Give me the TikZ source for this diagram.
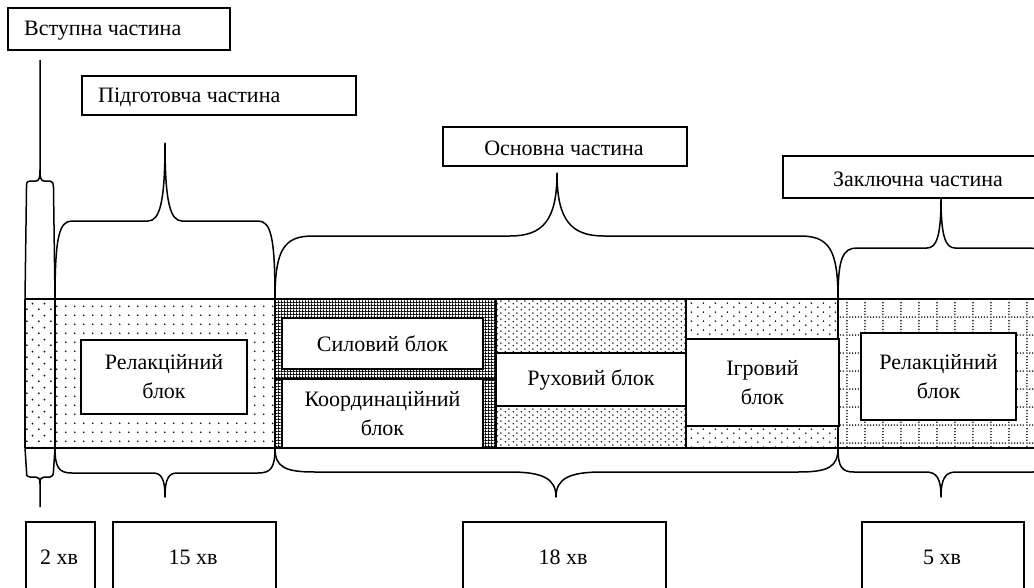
\documentclass[tikz,border=0pt]{standalone}
\usepackage{fontspec}
\setmainfont{Liberation Serif}
\usetikzlibrary{patterns}

% sparse staggered dots (Вступна)
\pgfdeclarepatternformonly{pA}{\pgfpointorigin}{\pgfqpoint{12pt}{12pt}}{\pgfqpoint{12pt}{12pt}}{%
 \pgfpathcircle{\pgfqpoint{3pt}{3pt}}{1pt}\pgfpathcircle{\pgfqpoint{9pt}{9pt}}{1pt}\pgfusepath{fill}}
% regular dots (Підготовча)
\pgfdeclarepatternformonly{pB}{\pgfpointorigin}{\pgfqpoint{9pt}{9pt}}{\pgfqpoint{9pt}{9pt}}{%
 \pgfpathcircle{\pgfqpoint{3pt}{3pt}}{1pt}\pgfusepath{fill}}
% fine mesh (Силовий / Координаційний)
\pgfdeclarepatternformonly{pC}{\pgfpointorigin}{\pgfqpoint{3.2pt}{3.2pt}}{\pgfqpoint{3.2pt}{3.2pt}}{%
 \pgfpathrectangle{\pgfpointorigin}{\pgfqpoint{3.2pt}{1.1pt}}\pgfpathrectangle{\pgfpointorigin}{\pgfqpoint{1.1pt}{3.2pt}}\pgfusepath{fill}}
% dense staggered dots (Руховий)
\pgfdeclarepatternformonly{pD}{\pgfpointorigin}{\pgfqpoint{8pt}{6pt}}{\pgfqpoint{8pt}{6pt}}{%
 \pgfpathcircle{\pgfqpoint{1.5pt}{1.5pt}}{0.9pt}\pgfpathcircle{\pgfqpoint{5.5pt}{4.5pt}}{0.9pt}\pgfusepath{fill}}
% medium staggered dots (Ігровий)
\pgfdeclarepatternformonly{pE}{\pgfpointorigin}{\pgfqpoint{12pt}{9pt}}{\pgfqpoint{12pt}{9pt}}{%
 \pgfpathcircle{\pgfqpoint{2pt}{2pt}}{0.95pt}\pgfpathcircle{\pgfqpoint{8pt}{6.5pt}}{0.95pt}\pgfusepath{fill}}
% dotted grid (Заключна)
\pgfdeclarepatternformonly{pF}{\pgfpointorigin}{\pgfqpoint{18pt}{18pt}}{\pgfqpoint{18pt}{18pt}}{%
 \foreach \i in {0,3,...,15}{\pgfpathcircle{\pgfpoint{\i pt+1pt}{1pt}}{0.85pt}\pgfpathcircle{\pgfpoint{1pt}{\i pt+1pt}}{0.85pt}}\pgfusepath{fill}}

\tikzset{
 box/.style={draw, line width=1.5pt, fill=white, inner sep=0pt},
 txt/.style={font=\fontsize{22}{29}\selectfont, align=center, inner sep=0pt},
 brace/.style={line width=1.5pt, line join=round},
 bandline/.style={line width=1.5pt}
}

% #1 x1, #2 x2, #3 xc, #4 y end, #5 y horizontal, #6 y tip, #7 end width, #8 cusp half width
\newcommand{\MyBrace}[8]{%
 \draw[brace] (#1,#4) .. controls (#1,{#5+0.2*(#4-#5)}) and ({#1+0.25*#7},#5) .. ({#1+#7},#5)
  -- ({#3-#8},#5) .. controls ({#3-0.3*#8},#5) and (#3,{#5+0.25*(#6-#5)}) .. (#3,#6)
  .. controls (#3,{#5+0.25*(#6-#5)}) and ({#3+0.3*#8},#5) .. ({#3+#8},#5)
  -- ({#2-#7},#5) .. controls ({#2-0.25*#7},#5) and (#2,{#5+0.2*(#4-#5)}) .. (#2,#4);}

\begin{document}
\begin{tikzpicture}[x=1pt,y=-1pt]
\useasboundingbox (0,0) rectangle (1034,587);
\clip (0,0) rectangle (1034,587);

% band patterns
\fill[pattern=pA] (25,299) rectangle (55,448);
\fill[pattern=pB] (55,299) rectangle (275,448);
\fill[pattern=pC] (275,299) rectangle (496,448);
\fill[pattern=pD] (496,299) rectangle (686,448);
\fill[pattern=pE] (686,299) rectangle (838,448);
\fill[pattern=pF] (838,299) rectangle (1034,448);

% band lines
\draw[bandline] (25,299) -- (1034,299);
\draw[bandline] (25,448) -- (1034,448);
\draw[bandline] (25,299) -- (25,448);
\draw[bandline] (55,299) -- (55,448);
\draw[bandline] (275,299) -- (275,448);
\draw[bandline] (496,299) -- (496,448);
\draw[bandline] (686,299) -- (686,448);
\draw[bandline] (838,299) -- (838,448);
\draw[bandline] (275,379) -- (496,379);

% inner blocks
\node[box, txt, minimum width=166pt, minimum height=74pt] (rel1) at (164,377) {Релакційний\\блок};
\node[box, txt, minimum width=201pt, minimum height=51pt] (sil) at (382.5,343.5) {Силовий блок};
\node[box, txt, minimum width=201pt, minimum height=69pt] (koord) at (382.5,413.5) {Координаційний\\блок};
\node[box, txt, minimum width=190pt, minimum height=53pt] (ruh) at (591,379.5) {Руховий блок};
\node[box, txt, minimum width=153pt, minimum height=87pt] (igr) at (762.5,382.5) {Ігровий\\блок};
\node[box, txt, minimum width=155pt, minimum height=87pt] (rel2) at (938.5,376.5) {Релакційний\\блок};

% top label boxes
\node[box, minimum width=222pt, minimum height=42pt, anchor=north west] (vstb) at (7,7) {};
\node[txt, anchor=west] (vst) at (24,31) {Вступна частина};
\node[box, minimum width=274pt, minimum height=39pt, anchor=north west] (pidb) at (81,75) {};
\node[txt, anchor=west] (pid) at (98,97.5) {Підготовча частина};
\node[box, minimum width=244pt, minimum height=39pt, anchor=north west] (osnb) at (442,126) {};
\node[txt] (osn) at (564,148.5) {Основна частина};
\node[box, minimum width=300pt, minimum height=42pt, anchor=north west] (zakb) at (782,155) {};
\node[txt] (zak) at (918,179) {Заключна частина};

% bottom time boxes
\node[box, minimum width=69pt, minimum height=100pt, anchor=north west] (t1b) at (25,521) {};
\node[txt] (t1) at (59,557) {2 хв};
\node[box, minimum width=163pt, minimum height=100pt, anchor=north west] (t2b) at (112,521) {};
\node[txt] (t2) at (193,557) {15 хв};
\node[box, minimum width=203pt, minimum height=100pt, anchor=north west] (t3b) at (462,521) {};
\node[txt] (t3) at (563,557) {18 хв};
\node[box, minimum width=162pt, minimum height=100pt, anchor=north west] (t4b) at (861,521) {};
\node[txt] (t4) at (942,557) {5 хв};

% Вступна braces
\draw[brace] (25,299) -- (26.5,188) .. controls (26.5,182) .. (30,181) -- (36,181)
  .. controls (39,181) and (40,178) .. (40,170) -- (40,60)
  (40,170) .. controls (40,178) and (41,181) .. (44,181) -- (50,181)
  .. controls (53,182) .. (53.5,188) -- (55,299);
\draw[brace] (25,448) -- (26.5,471) .. controls (26.5,476) .. (30,477) -- (36,477)
  .. controls (39,477) and (40,479) .. (40,484) -- (40,507)
  (40,484) .. controls (40,479) and (41,477) .. (44,477) -- (50,477)
  .. controls (53,476) .. (53.5,471) -- (55,448);

% top braces
\MyBrace{55}{275}{165}{299}{221}{143}{17}{17}
\MyBrace{275}{838}{557}{299}{236}{173}{38}{47}
\MyBrace{838}{1049}{941}{299}{248}{198}{19}{14}
% bottom braces
\MyBrace{55}{275}{165}{448}{473}{497}{17}{12}
\MyBrace{275}{838}{556}{448}{472}{497}{40}{46}
\MyBrace{838}{1049}{941}{448}{472}{497}{16}{15}
\end{tikzpicture}
\end{document}
